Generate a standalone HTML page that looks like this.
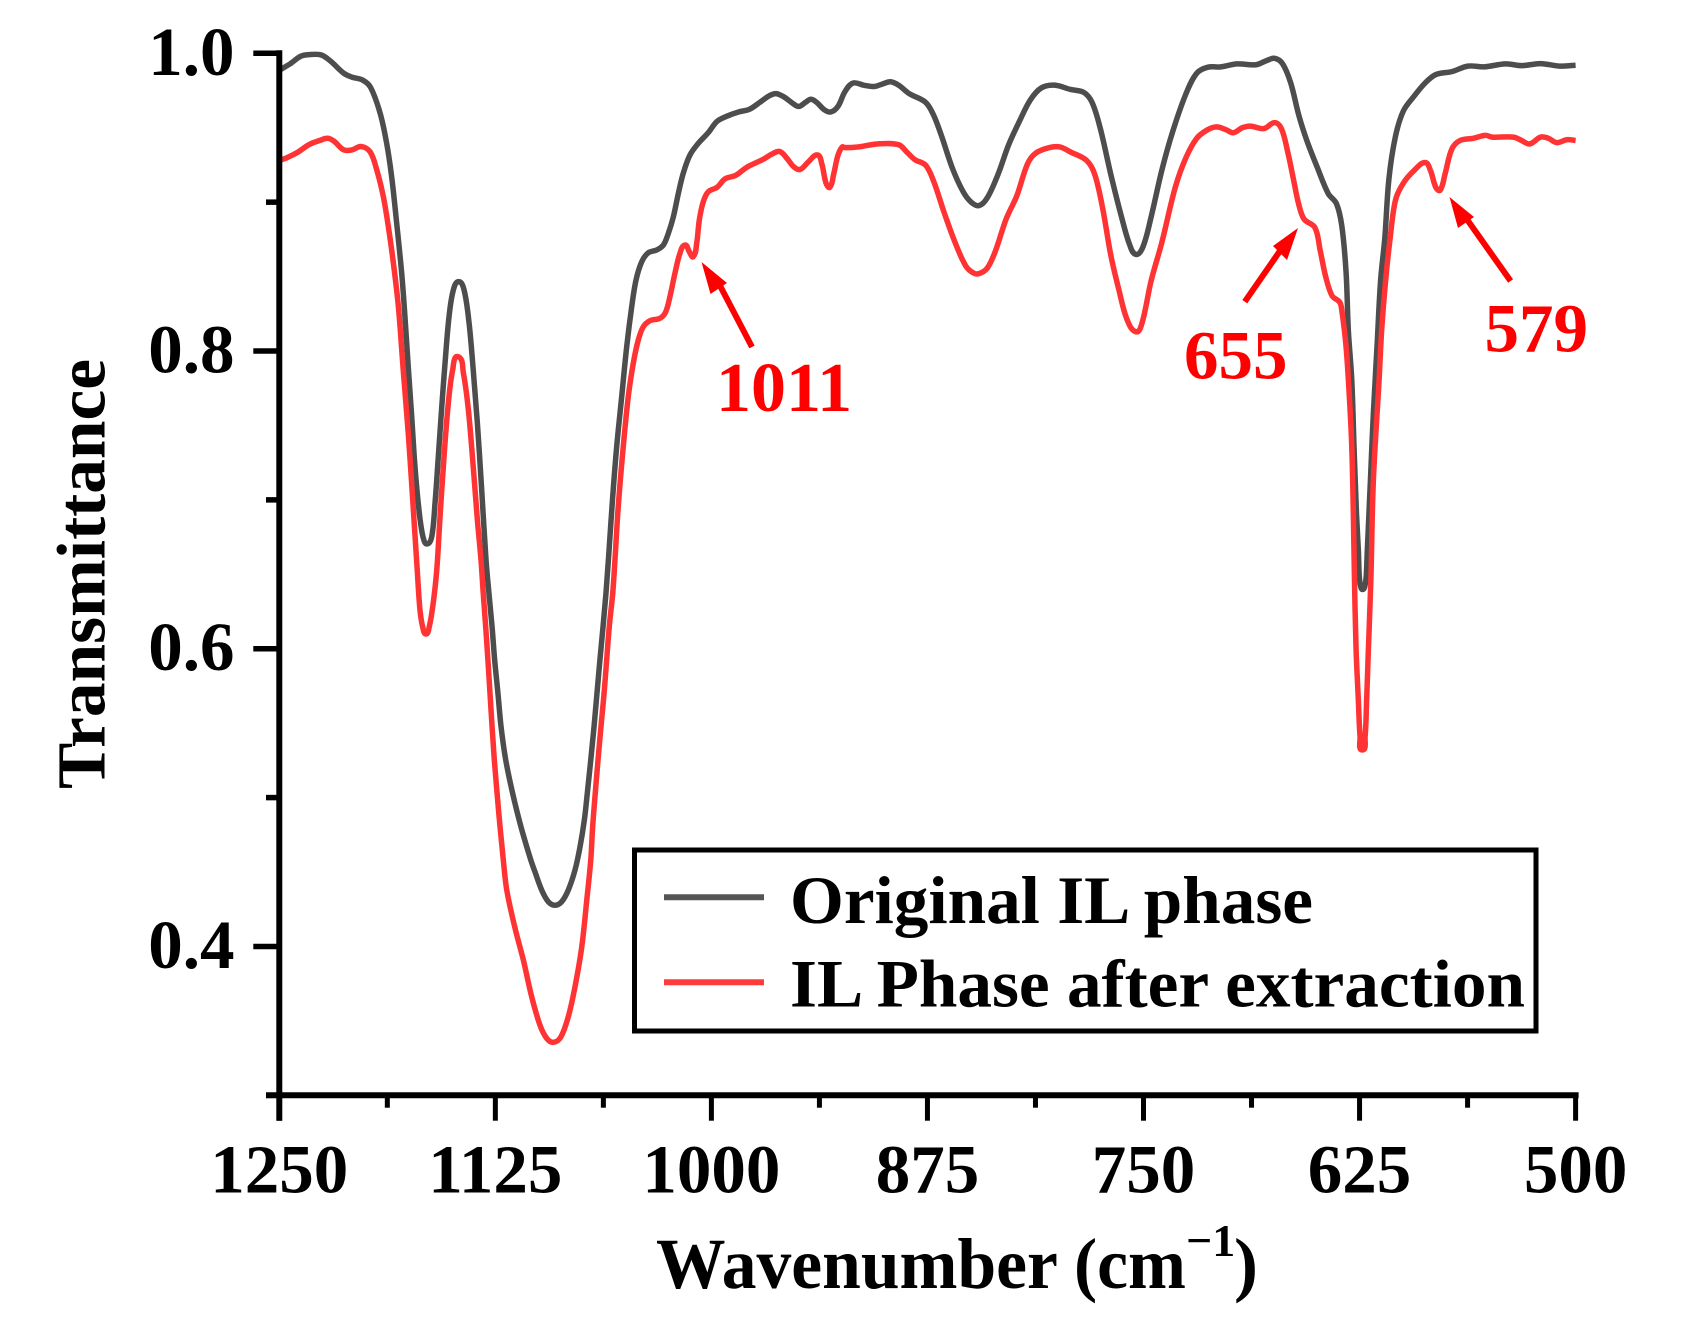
<!DOCTYPE html>
<html lang="en">
<head>
<meta charset="utf-8">
<title>Transmittance spectra</title>
<style>
html,body{margin:0;padding:0;background:#fff;}
svg{display:block;}
text{font-family:"Liberation Serif",serif;font-weight:bold;}
</style>
</head>
<body>
<svg id="chart" xmlns="http://www.w3.org/2000/svg" width="1683" height="1336" viewBox="0 0 1683 1336">
<rect x="0" y="0" width="1683" height="1336" fill="#fff"/>
<g id="curves"></g>
<g id="axes"></g>
<text transform="translate(104.5,789) rotate(-90)" font-size="69" textLength="430" lengthAdjust="spacingAndGlyphs" fill="#000">Transmittance</text>
<text x="656" y="1288" font-size="72" textLength="530" lengthAdjust="spacingAndGlyphs" fill="#000">Wavenumber (cm</text>
<text x="1186" y="1256" font-size="46" fill="#000">−1</text>
<text x="1234" y="1288" font-size="72" fill="#000">)</text>
<rect x="634.5" y="850" width="901.5" height="181" fill="#fff" fill-opacity="0" stroke="#000" stroke-width="5"/>
<line x1="664" x2="764" y1="897.3" y2="897.3" stroke="#555" stroke-width="6"/>
<text x="790" y="923" font-size="68" textLength="523" lengthAdjust="spacingAndGlyphs" fill="#000">Original IL phase</text>
<line x1="664" x2="764" y1="982.3" y2="982.3" stroke="#ff3b3b" stroke-width="6"/>
<text x="790" y="1006.7" font-size="68" textLength="735" lengthAdjust="spacingAndGlyphs" fill="#000">IL Phase after extraction</text>
<g>
<line x1="752" y1="347" x2="716" y2="278" stroke="#f00" stroke-width="6"/>
<polygon points="701.5,262 727,283 710.5,294" fill="#f00"/>
<text x="716" y="411" font-size="70" fill="#f00">1011</text>
</g>
<g>
<line x1="1244.8" y1="301.7" x2="1282" y2="248" stroke="#f00" stroke-width="6"/>
<polygon points="1298,228 1273,246 1287,260" fill="#f00"/>
<text x="1184" y="378.4" font-size="69" fill="#f00">655</text>
</g>
<g>
<line x1="1510.6" y1="281" x2="1466" y2="218" stroke="#f00" stroke-width="6"/>
<polygon points="1449.5,197 1474,217 1458,228" fill="#f00"/>
<text x="1484.5" y="351.5" font-size="69" fill="#f00">579</text>
</g>
</svg>
<script>
const xMajorTicks = [1250, 1125, 1000, 875, 750, 625, 500];
const xMinorTicks = [1187.5, 1062.5, 937.5, 812.5, 687.5, 562.5];
const yMajorTicks = [1.0, 0.8, 0.6, 0.4];
const yMinorTicks = [0.9, 0.7, 0.5, 0.3];
const xTickLabels = ["1250", "1125", "1000", "875", "750", "625", "500"];
const yTickLabels = ["1.0", "0.8", "0.6", "0.4"];

const originalWavenumbers = [
1250,1243.8,1237.6,1232.9,1225.8,1220.5,1212.7,1208,1201.8,1197.2,
1191.7,1187.9,1185,1182.1,1179.2,1177.3,1175.4,1173.4,1171.5,1169,
1166.7,1164.4,1161.8,1159.9,1158,1156,1154.1,1151.8,1149.3,1146.2,
1143.1,1140.2,1137.8,1135.4,1132.9,1130.4,1128.7,1126.9,1125.4,1123.5,
1121.7,1119,1115,1110.2,1104.5,1102.1,1098.2,1094.4,1090.5,1086.6,
1082.8,1078.9,1076,1073.5,1071.8,1069.8,1067.9,1066.2,1064.5,1062.7,
1061,1059.6,1057.1,1054.8,1051.9,1049,1046.1,1043.6,1040.3,1036.5,
1031.6,1027.8,1024.9,1022,1019.1,1016.3,1012.4,1007.6,1001.8,996.7,
990.5,984.3,978.1,971.9,966.6,962.6,957.9,953.2,949.5,945.5,
942.4,939.2,934.6,930.9,926.8,922.7,918.1,911.9,905.7,901,
896.3,891.7,885.5,876.1,871.5,866.8,860.6,854.4,849.7,845.1,
840.4,834.2,828,821.8,815.5,809.3,801.6,792.2,784.5,779.8,
775.1,768.9,762.7,758,754.3,750.3,745.6,739.4,733.2,725.4,
719.2,713,705.2,695.9,685,678.8,674.1,669.5,664.8,660.2,
655.5,649.3,643.1,638.4,635.3,632.8,631.5,629.5,628.2,626.8,
625.7,625.2,624.5,623.2,621.8,621.1,620.5,618.7,617,614.9,
612.8,610.4,608,604.2,599.6,593.3,587.1,580.9,571.6,562.3,
552.9,540.5,531.2,520.3,509.4,500
];
const originalTransmittance = [
.9886,.9929,.998,.9991,.9989,.9949,.9866,.984,.982,.9771,
.9599,.9397,.9171,.886,.8524,.8231,.7895,.7559,.7223,.6912,
.6744,.6704,.6753,.6979,.729,.7626,.792,.8231,.841,.8466,
.841,.8188,.7873,.7516,.7066,.6596,.6372,.6148,.5924,.5701,
.5476,.5253,.5029,.4805,.4581,.4502,.4379,.4301,.4277,.4301,
.4379,.4514,.467,.485,.5029,.5253,.5476,.5701,.5924,.6148,
.6372,.6596,.7021,.7357,.7693,.8029,.8298,.8477,.86,.866,
.8679,.8712,.8791,.8902,.906,.9194,.9317,.9395,.9467,.9543,
.958,.9606,.9623,.9671,.9714,.9729,.9706,.9666,.9643,.9671,
.9691,.9671,.962,.9606,.9643,.9743,.98,.9786,.9777,.9794,
.9809,.9786,.9729,.9671,.9586,.9443,.9229,.9071,.9,.8977,
.9029,.9186,.9386,.9543,.9686,.9766,.9786,.9757,.9737,.9671,
.95,.9186,.89,.8714,.8649,.87,.89,.9214,.9471,.9729,
.9866,.9906,.9909,.9929,.9923,.9951,.9966,.9929,.98,.9586,
.9414,.9229,.9057,.8991,.8843,.8529,.8141,.7805,.7357,.6912,
.6663,.6495,.6428,.6398,.6428,.6495,.6663,.7134,.7584,.8029,
.8477,.8757,.9157,.9443,.9614,.9714,.98,.9857,.9877,.9914,
.9909,.9929,.9917,.9931,.9914,.992
];

const extractedWavenumbers = [
1250,1245.3,1239.1,1232.9,1226.7,1222,1218.3,1212.7,1208,1202.8,
1197.5,1193.6,1189.8,1186.9,1184,1181.1,1178.3,1175.4,1172.8,1170.2,
1168.6,1166.9,1165.1,1163.4,1161.1,1158.9,1157,1154.7,1152.2,1149.7,
1146.6,1143.5,1140.6,1137.8,1135.4,1133.3,1132,1130.6,1129.3,1128.1,
1126.9,1125.6,1124,1122.3,1120.4,1118.4,1113.6,1108.8,1104,1099.2,
1095.3,1091.5,1087.2,1082.8,1078.9,1075,1072.1,1069.8,1068.7,1067.2,
1065.6,1063.9,1062.1,1060.6,1059.1,1057.1,1055.8,1053.9,1051,1048.1,
1045.2,1042.3,1039.4,1035.5,1029.7,1026.4,1024,1021.1,1018.2,1015.3,
1012.8,1010.5,1008.5,1007,1004.7,1001.8,996.7,992.1,985.9,979.6,
970.3,965,960.4,956.3,952.3,948.6,943.9,938.6,936.1,933.7,
931.5,929.3,926.8,924.3,922.7,915,904.1,891.7,887,882.3,
876.1,871.5,865.3,859,852.8,848.2,845.1,840.4,835.7,829.5,
823.3,817.1,812.4,804.7,798.4,792.2,782.9,778.2,773.6,768.9,
764.3,759.6,754.3,750.9,745.6,739.4,731.6,725.4,719.2,713,
707.7,702.1,698.1,692.8,688.1,680.4,674.1,670.1,666.4,663.3,
660.2,657.1,650.8,647.7,644.6,640.9,636.5,635.3,632.8,630.9,
629.5,628.6,627.9,627,625.7,624.7,623.4,621.8,620.9,619.9,
618.5,617,613.7,612.2,609.9,607.3,604.2,599.6,593.3,587.1,
584,580.9,578.4,575.6,571.6,566.9,559.2,552.3,548.3,535.9,
531.2,526.5,520.3,515.7,511,504.8,500
];
const extractedTransmittance = [
.928,.93,.9337,.9386,.9414,.9429,.9409,.9351,.9351,.9374,
.9339,.9216,.9037,.8835,.8591,.8298,.7873,.7449,.6999,.6529,
.626,.6139,.6099,.6139,.6294,.6529,.6887,.729,.7651,.7873,
.7962,.7852,.7604,.7223,.6865,.6596,.6372,.6148,.5924,.5701,
.5476,.5253,.5029,.4805,.4581,.4379,.4122,.3909,.3663,.3472,
.3383,.3356,.339,.3528,.373,.3998,.4312,.4581,.4805,.5029,
.5253,.5476,.5701,.5924,.6148,.6372,.6596,.6954,.7357,.7693,
.7918,.8074,.8163,.8204,.822,.8264,.8365,.8522,.8656,.8712,
.8667,.8634,.8724,.888,.9003,.907,.91,.9157,.918,.9234,
.9286,.9323,.934,.9294,.9237,.922,.9271,.9317,.9257,.9129,
.91,.9186,.9314,.9371,.9366,.9371,.9391,.9386,.9337,.9286,
.9249,.9143,.8929,.8729,.8571,.8523,.852,.8557,.8671,.8886,
.9043,.9257,.9329,.9366,.9371,.9337,.928,.9186,.8957,.8643,
.8414,.8214,.8129,.8186,.8471,.8729,.91,.93,.9429,.9486,
.9506,.9486,.9466,.95,.9511,.9494,.9534,.9491,.9329,.9157,
.8986,.8886,.8829,.8671,.85,.8371,.8329,.8276,.8029,.7693,
.7357,.6912,.6442,.5992,.5656,.5409,.532,.5409,.5656,.5992,
.6442,.7134,.7805,.8141,.8477,.8757,.9014,.9129,.9214,.9266,
.9214,.91,.908,.9186,.9357,.9414,.9429,.9449,.9437,.9437,
.9414,.9391,.9437,.9429,.94,.942,.9414
];

const plot = { left: 279.3, right: 1575.6, top: 53.3, bottom: 1095.3, xMax: 1250, xMin: 500, yMax: 1.0, yMin: 0.3 };
const SVG_NS = "http://www.w3.org/2000/svg";

function xScale(w) {
  return plot.left + (plot.xMax - w) / (plot.xMax - plot.xMin) * (plot.right - plot.left);
}
function yScale(t) {
  return plot.top + (plot.yMax - t) / (plot.yMax - plot.yMin) * (plot.bottom - plot.top);
}
function mk(tag, attrs, parent) {
  const el = document.createElementNS(SVG_NS, tag);
  for (const k in attrs) el.setAttribute(k, attrs[k]);
  parent.appendChild(el);
  return el;
}
function unitTangent(a, b) {
  const dx = b[0] - a[0], dy = b[1] - a[1], len = Math.hypot(dx, dy) || 1;
  return [dx / len, dy / len];
}
function smoothPath(xs, ys) {
  const pts = xs.map((w, i) => [xScale(w), yScale(ys[i])]);
  let d = "M" + pts[0][0].toFixed(2) + " " + pts[0][1].toFixed(2);
  for (let i = 0; i < pts.length - 1; i++) {
    const p0 = pts[Math.max(i - 1, 0)], p1 = pts[i], p2 = pts[i + 1], p3 = pts[Math.min(i + 2, pts.length - 1)];
    const seg = Math.hypot(p2[0] - p1[0], p2[1] - p1[1]) / 3;
    const t1 = unitTangent(p0, p2), t2 = unitTangent(p1, p3);
    const c1x = p1[0] + t1[0] * seg, c1y = p1[1] + t1[1] * seg;
    const c2x = p2[0] - t2[0] * seg, c2y = p2[1] - t2[1] * seg;
    d += "C" + c1x.toFixed(2) + " " + c1y.toFixed(2) + " " + c2x.toFixed(2) + " " + c2y.toFixed(2) + " " + p2[0].toFixed(2) + " " + p2[1].toFixed(2);
  }
  return d;
}

const curves = document.getElementById("curves");
const axes = document.getElementById("axes");

const originalLine = mk("path", { d: smoothPath(originalWavenumbers, originalTransmittance), fill: "none", stroke: "#4d4d4d", "stroke-width": 5.5, "stroke-linejoin": "round" }, curves);



const extractedLine = mk("path", { d: smoothPath(extractedWavenumbers, extractedTransmittance), fill: "none", stroke: "#ff3333", "stroke-width": 5.5, "stroke-linejoin": "round" }, curves);



const yAxisLine = mk("line", { x1: plot.left, x2: plot.left, y1: plot.top - 3, y2: plot.bottom + 25.4, stroke: "#000", "stroke-width": 6 }, axes);



const xAxisLine = mk("line", { x1: plot.left - 13.3, x2: plot.right + 3, y1: plot.bottom, y2: plot.bottom, stroke: "#000", "stroke-width": 6 }, axes);



xMajorTicks.forEach((w, i) => {
  const tick = mk("line", { x1: xScale(w), x2: xScale(w), y1: plot.bottom, y2: plot.bottom + 25.4, stroke: "#000", "stroke-width": 5 }, axes);
  
  
  const label = mk("text", { x: xScale(w), y: 1192.7, "font-size": 69, "text-anchor": "middle", fill: "#000" }, axes);
  label.textContent = xTickLabels[i];
  
  
});
xMinorTicks.forEach((w) => {
  const tick = mk("line", { x1: xScale(w), x2: xScale(w), y1: plot.bottom, y2: plot.bottom + 12.4, stroke: "#000", "stroke-width": 5 }, axes);
  
  
});
yMajorTicks.forEach((t, i) => {
  const tick = mk("line", { x1: plot.left - 26, x2: plot.left, y1: yScale(t), y2: yScale(t), stroke: "#000", "stroke-width": 5.5 }, axes);
  
  
  const label = mk("text", { x: 234.5, y: yScale(t) + 21.5, "font-size": 69, "text-anchor": "end", fill: "#000" }, axes);
  label.textContent = yTickLabels[i];
  
  
});
yMinorTicks.forEach((t) => {
  const tick = mk("line", { x1: plot.left - 13.3, x2: plot.left, y1: yScale(t), y2: yScale(t), stroke: "#000", "stroke-width": 5.5 }, axes);
  
  
});
</script>
</body>
</html>
